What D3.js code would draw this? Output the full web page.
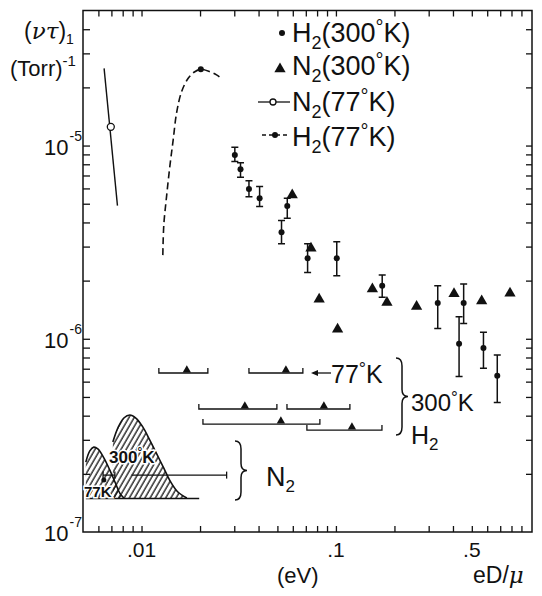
<!DOCTYPE html>
<html>
<head>
<meta charset="utf-8">
<script src="https://cdn.jsdelivr.net/npm/d3@7"></script>
<style>
  body { margin: 0; background: #fff; }
  svg { display: block; }
  text { font-family: "Liberation Sans", Arial, sans-serif; fill: #111; }
</style>
</head>
<body>
<script>
const W = 542;
const H = 596;

// axis labels
const xTickValues = [0.01, 0.1, 0.5];
const xTickLabels = [".01", ".1", ".5"];
const yDecades = [1e-7, 1e-6, 1e-5];
const yExponents = ["-7", "-6", "-5"];

// H2 (300 K): energy, value, error bar top / bottom
const h2E = [0.0302, 0.0323, 0.0357, 0.0405, 0.0562, 0.0525, 0.0715, 0.101, 0.173, 0.334, 0.454, 0.430, 0.574, 0.676];
const h2V = [8.94e-6, 7.54e-6, 5.96e-6, 5.34e-6, 4.87e-6, 3.56e-6, 2.61e-6, 2.61e-6, 1.88e-6, 1.53e-6, 1.53e-6, 9.43e-7, 8.97e-7, 6.44e-7];
const h2Hi = [9.80e-6, 8.15e-6, 6.58e-6, 6.13e-6, 5.34e-6, 4.09e-6, 3.10e-6, 3.18e-6, 2.14e-6, 1.88e-6, 1.92e-6, 1.30e-6, 1.08e-6, 8.23e-7];
const h2Lo = [8.26e-6, 6.85e-6, 5.44e-6, 4.83e-6, 4.21e-6, 3.10e-6, 2.20e-6, 2.12e-6, 1.64e-6, 1.13e-6, 1.20e-6, 6.38e-7, 7.03e-7, 4.68e-7];

// N2 (300 K)
const n2E = [0.0596, 0.0744, 0.0820, 0.102, 0.154, 0.183, 0.260, 0.405, 0.562, 0.786];
const n2V = [5.55e-6, 2.94e-6, 1.60e-6, 1.12e-6, 1.81e-6, 1.54e-6, 1.47e-6, 1.71e-6, 1.57e-6, 1.72e-6];

// N2 (77 K) line and point
const n77E = [0.00642, 0.00752];
const n77V = [2.51e-5, 4.89e-6];
const n77Pt = [0.00695, 1.25e-5];

// H2 (77 K) dashed curve and point
const h77E = [0.01287, 0.01302, 0.01345, 0.01398, 0.01455, 0.01514, 0.01607, 0.01738, 0.0188, 0.02019, 0.02247, 0.02432, 0.02611];
const h77V = [2.71e-6, 3.88e-6, 5.44e-6, 7.78e-6, 1.07e-5, 1.47e-5, 1.90e-5, 2.23e-5, 2.41e-5, 2.48e-5, 2.41e-5, 2.32e-5, 2.20e-5];
const h77Pt = [0.02019, 2.48e-5];

// H2 energy ranges (bracketed bars with triangle)
const barLo = [0.01228, 0.0357, 0.01972, 0.0560, 0.0207, 0.0709];
const barHi = [0.02194, 0.0676, 0.0497, 0.118, 0.0827, 0.1725];
const barMid = [0.0171, 0.0553, 0.0340, 0.0867, 0.0521, 0.1209];
const barV = [6.65e-7, 6.65e-7, 4.33e-7, 4.33e-7, 3.62e-7, 3.37e-7];

// N2 energy ranges
const n2BarLo = [0.00634, 0.00888];
const n2BarHi = [0.00729, 0.0274];
const n2BarV = [1.97e-7, 1.97e-7];
const n2BarPt = [0.0064, 1.86e-7];

// hatched distributions
const hump77E = [0.00517, 0.00542, 0.00568, 0.00596, 0.0064, 0.00687, 0.00738, 0.00773, 0.00811];
const hump77V = [2.30e-7, 2.63e-7, 2.75e-7, 2.69e-7, 2.42e-7, 2.09e-7, 1.77e-7, 1.59e-7, 1.50e-7];
const hump300E = [0.00712, 0.00755, 0.00811, 0.00871, 0.00935, 0.01015, 0.01103, 0.01199, 0.01302, 0.01415, 0.01538, 0.01711];
const hump300V = [2.92e-7, 3.45e-7, 3.89e-7, 4.03e-7, 3.89e-7, 3.50e-7, 2.99e-7, 2.53e-7, 2.14e-7, 1.81e-7, 1.61e-7, 1.50e-7];
const humpBase = 1.49e-7;
const humpBaseE = [0.00517, 0.0198];

const svg = d3.select("body").append("svg").attr("width", W).attr("height", H);

const x = d3.scaleLog().domain([0.005, 1.02]).range([83, 532]);
const y = d3.scaleLog().domain([1e-7, 5e-5]).range([532, 10.5]);

const defs = svg.append("defs");
defs.append("pattern")
  .attr("id", "hatch")
  .attr("patternUnits", "userSpaceOnUse")
  .attr("width", 4.5)
  .attr("height", 4.5)
  .attr("patternTransform", "rotate(30)")
  .append("line")
  .attr("x1", 1).attr("y1", 0).attr("x2", 1).attr("y2", 4.5)
  .attr("stroke", "#111").attr("stroke-width", 1.3);

// frame + ticks
const xMinor = x.ticks().filter((d) => d > 0.0055 && d < 0.95);
const yMinor = y.ticks().filter((d) => d > 1.05e-7 && d < 4.9e-5);

const axisStyle = (g) => {
  g.select(".domain").remove();
  g.selectAll("line").attr("stroke", "#111").attr("stroke-width", 1.3);
};

svg.append("g").attr("transform", "translate(0,532)")
  .call(d3.axisBottom(x).tickValues(xMinor).tickSize(-6).tickFormat(""))
  .call(axisStyle);
svg.append("g").attr("transform", "translate(0,10.5)")
  .call(d3.axisTop(x).tickValues(xMinor).tickSize(-6).tickFormat(""))
  .call(axisStyle);
svg.append("g").attr("transform", "translate(83,0)")
  .call(d3.axisLeft(y).tickValues(yMinor).tickSize(-7).tickFormat(""))
  .call(axisStyle);
svg.append("g").attr("transform", "translate(532,0)")
  .call(d3.axisRight(y).tickValues(yMinor).tickSize(-6).tickFormat(""))
  .call(axisStyle);

svg.append("rect")
  .attr("x", 83).attr("y", 10.5).attr("width", 449).attr("height", 521.5)
  .attr("fill", "none").attr("stroke", "#111").attr("stroke-width", 1.5);

// tick labels
xTickValues.forEach((v, i) => {
  svg.append("text")
    .attr("x", x(v)).attr("y", 557)
    .attr("text-anchor", "middle")
    .attr("font-size", 21)
    .text(xTickLabels[i]);
});

yDecades.forEach((v, i) => {
  const t = svg.append("text")
    .attr("x", 44).attr("y", y(v) + 9)
    .attr("font-size", 22);
  t.append("tspan").text("10");
  t.append("tspan").attr("font-size", 14).attr("dx", 1).attr("dy", -14).text(yExponents[i]);
});

// axis titles
const yt = svg.append("text").attr("x", 24).attr("y", 39).attr("font-size", 23);
yt.append("tspan").text("(");
yt.append("tspan").attr("font-family", "DejaVu Serif").attr("font-style", "italic").text("ντ");
yt.append("tspan").text(")");
yt.append("tspan").attr("font-size", 14).attr("dy", 5).text("1");

const yt2 = svg.append("text").attr("x", 10).attr("y", 76).attr("font-size", 22);
yt2.append("tspan").text("(Torr)");
yt2.append("tspan").attr("font-size", 15).attr("dy", -10).text("-1");

svg.append("text").attr("x", 277).attr("y", 583).attr("font-size", 22).text("(eV)");
const xt = svg.append("text").attr("x", 473).attr("y", 583).attr("font-size", 23);
xt.append("tspan").text("eD/");
xt.append("tspan").attr("font-family", "DejaVu Serif").attr("font-style", "italic").text("μ");

// hatched distributions
const outline = d3.line().curve(d3.curveCatmullRom);
const closed = d3.line().curve(d3.curveLinear);

[[hump300E, hump300V], [hump77E, hump77V]].forEach(([es, vs]) => {
  const pts = es.map((e, i) => [x(e), y(vs[i])]);
  const area = pts.concat([[x(es[es.length - 1]), y(humpBase)], [x(es[0]), y(humpBase)]]);
  svg.append("path").attr("d", closed(area) + "Z").attr("fill", "url(#hatch)");
  svg.append("path").attr("d", outline(pts)).attr("fill", "none")
    .attr("stroke", "#111").attr("stroke-width", 1.6);
});

svg.append("line")
  .attr("x1", x(humpBaseE[0])).attr("x2", x(humpBaseE[1]))
  .attr("y1", y(humpBase)).attr("y2", y(humpBase))
  .attr("stroke", "#111").attr("stroke-width", 1.5);

const haloText = (tx, ty, size, parts) => {
  const t = svg.append("text").attr("x", tx).attr("y", ty)
    .attr("font-size", size).attr("font-weight", "bold")
    .attr("stroke", "#fff").attr("stroke-width", 3).attr("paint-order", "stroke");
  parts(t);
};
haloText(109, 463, 17, (t) => { t.append("tspan").text("300"); t.append("tspan").attr("font-size", 12).attr("dy", -7).text("°"); t.append("tspan").attr("dy", 7).text("K"); });
haloText(84, 497, 15, (t) => t.text("77K"));

// N2 energy ranges
n2BarLo.forEach((lo, i) => {
  const yy = y(n2BarV[i]);
  svg.append("line").attr("x1", x(lo)).attr("x2", x(n2BarHi[i])).attr("y1", yy).attr("y2", yy)
    .attr("stroke", "#111").attr("stroke-width", 1.3);
  svg.append("line").attr("x1", x(n2BarHi[i])).attr("x2", x(n2BarHi[i])).attr("y1", yy - 3.5).attr("y2", yy + 3.5)
    .attr("stroke", "#111").attr("stroke-width", 1.3);
  if (i === 0) {
    svg.append("line").attr("x1", x(lo)).attr("x2", x(lo)).attr("y1", yy - 3.5).attr("y2", yy + 3.5)
      .attr("stroke", "#111").attr("stroke-width", 1.3);
  }
});
svg.append("circle").attr("cx", x(n2BarPt[0])).attr("cy", y(n2BarPt[1])).attr("r", 2.5).attr("fill", "#111");

// H2 energy ranges
const triSmall = d3.symbol().type(d3.symbolTriangle).size(30);
barLo.forEach((lo, i) => {
  const yy = y(barV[i]);
  const x0 = x(lo);
  const x1 = x(barHi[i]);
  svg.append("path")
    .attr("d", `M${x0},${yy - 5}L${x0},${yy}L${x1},${yy}L${x1},${yy - 5}`)
    .attr("fill", "none").attr("stroke", "#111").attr("stroke-width", 1.3);
  svg.append("path").attr("d", triSmall())
    .attr("transform", `translate(${x(barMid[i])},${yy - 3})`)
    .attr("fill", "#111");
});

// arrow + 77K label
svg.append("line").attr("x1", 331).attr("x2", 313).attr("y1", 373).attr("y2", 373)
  .attr("stroke", "#111").attr("stroke-width", 1.3);
svg.append("path").attr("d", "M311,373L318,370L318,376Z").attr("fill", "#111");
const t77 = svg.append("text").attr("x", 331).attr("y", 383).attr("font-size", 25);
t77.append("tspan").text("77");
t77.append("tspan").attr("font-size", 18).attr("dy", -8).text("°");
t77.append("tspan").attr("dy", 8).text("K");

// braces
const brace = (bx, y1, y2, w) => {
  const m = (y1 + y2) / 2;
  const h = w / 2;
  return `M${bx},${y1} Q${bx + h},${y1} ${bx + h},${y1 + 8} L${bx + h},${m - 7} Q${bx + h},${m} ${bx + w},${m}` +
    ` Q${bx + h},${m} ${bx + h},${m + 7} L${bx + h},${y2 - 8} Q${bx + h},${y2} ${bx},${y2}`;
};
svg.append("path").attr("d", brace(396, 358, 435, 12)).attr("fill", "none").attr("stroke", "#111").attr("stroke-width", 1.5);
svg.append("path").attr("d", brace(235, 441, 500, 12)).attr("fill", "none").attr("stroke", "#111").attr("stroke-width", 1.5);

const t300 = svg.append("text").attr("x", 411).attr("y", 411).attr("font-size", 24);
t300.append("tspan").text("300");
t300.append("tspan").attr("font-size", 17).attr("dy", -8).text("°");
t300.append("tspan").attr("dy", 8).text("K");
const th2 = svg.append("text").attr("x", 411).attr("y", 444).attr("font-size", 25);
th2.append("tspan").text("H");
th2.append("tspan").attr("font-size", 17).attr("dy", 6).text("2");
const tn2 = svg.append("text").attr("x", 266).attr("y", 486).attr("font-size", 27);
tn2.append("tspan").text("N");
tn2.append("tspan").attr("font-size", 17).attr("dy", 6).text("2");

// N2 77 K
svg.append("line")
  .attr("x1", x(n77E[0])).attr("y1", y(n77V[0]))
  .attr("x2", x(n77E[1])).attr("y2", y(n77V[1]))
  .attr("stroke", "#111").attr("stroke-width", 1.4);
svg.append("circle").attr("cx", x(n77Pt[0])).attr("cy", y(n77Pt[1])).attr("r", 3.5)
  .attr("fill", "#fff").attr("stroke", "#111").attr("stroke-width", 1.3);

// H2 77 K
svg.append("path")
  .attr("d", d3.line().curve(d3.curveCatmullRom).x((d, i) => x(h77E[i])).y((d) => y(d))(h77V))
  .attr("fill", "none").attr("stroke", "#111").attr("stroke-width", 1.6)
  .attr("stroke-dasharray", "7,4");
svg.append("circle").attr("cx", x(h77Pt[0])).attr("cy", y(h77Pt[1])).attr("r", 3).attr("fill", "#111");

// H2 300 K with error bars
h2E.forEach((e, i) => {
  const cx = x(e);
  svg.append("path")
    .attr("d", `M${cx},${y(h2Hi[i])}L${cx},${y(h2Lo[i])}M${cx - 3.5},${y(h2Hi[i])}L${cx + 3.5},${y(h2Hi[i])}M${cx - 3.5},${y(h2Lo[i])}L${cx + 3.5},${y(h2Lo[i])}`)
    .attr("stroke", "#111").attr("stroke-width", 1.5).attr("fill", "none");
  svg.append("circle").attr("cx", cx).attr("cy", y(h2V[i])).attr("r", 3).attr("fill", "#111");
});

// N2 300 K triangles
const tri = d3.symbol().type(d3.symbolTriangle).size(55);
n2E.forEach((e, i) => {
  svg.append("path").attr("d", tri())
    .attr("transform", `translate(${x(e)},${y(n2V[i])})`)
    .attr("fill", "#111");
});

// legend
const legendRows = [
  { base: "H", rest: "(300", tail: "K)", y: 42 },
  { base: "N", rest: "(300", tail: "K)", y: 75 },
  { base: "N", rest: "(77", tail: "K)", y: 111 },
  { base: "H", rest: "(77", tail: "K)", y: 146 }
];
legendRows.forEach((r) => {
  const t = svg.append("text").attr("x", 292).attr("y", r.y).attr("font-size", 27);
  t.append("tspan").text(r.base);
  t.append("tspan").attr("font-size", 18).attr("dy", 7).text("2");
  t.append("tspan").attr("dy", -7).text(r.rest);
  t.append("tspan").attr("font-size", 20).attr("dy", -8).text("°");
  t.append("tspan").attr("dy", 8).text(r.tail);
});
svg.append("circle").attr("cx", 282).attr("cy", 33).attr("r", 3).attr("fill", "#111");
svg.append("path").attr("d", tri()).attr("transform", "translate(280,69)").attr("fill", "#111");
svg.append("line").attr("x1", 258).attr("x2", 290).attr("y1", 102).attr("y2", 102)
  .attr("stroke", "#111").attr("stroke-width", 1.3);
svg.append("circle").attr("cx", 273).attr("cy", 102).attr("r", 3)
  .attr("fill", "#fff").attr("stroke", "#111").attr("stroke-width", 1.3);
svg.append("line").attr("x1", 262).attr("x2", 290).attr("y1", 135).attr("y2", 135)
  .attr("stroke", "#111").attr("stroke-width", 1.3).attr("stroke-dasharray", "4,3");
svg.append("circle").attr("cx", 275).attr("cy", 135).attr("r", 3).attr("fill", "#111");
</script>
</body>
</html>
